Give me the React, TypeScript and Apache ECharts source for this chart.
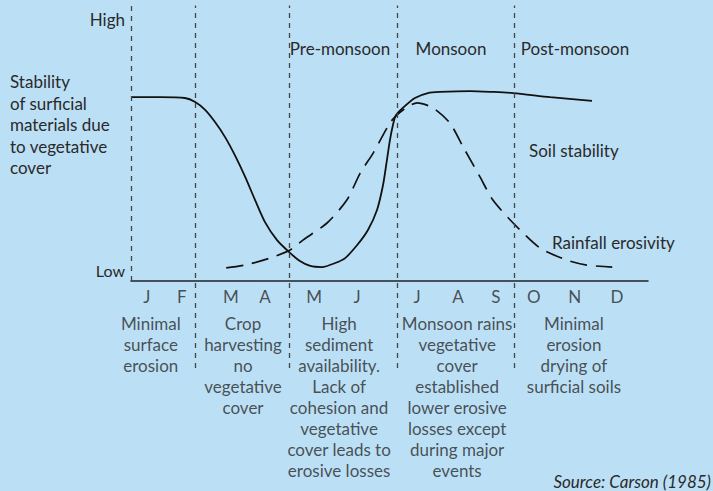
import React, { useEffect, useRef } from "react";
import * as echarts from "echarts";

const months = ["J", "F", "M", "A", "M", "J", "J", "A", "S", "O", "N", "D"];
const monthPos = [0.37, 1.18, 2.32, 3.11, 4.25, 5.25, 6.64, 7.59, 8.47, 9.35, 10.3, 11.28];

const soilX = [0, 0.67, 1.25, 1.49, 1.72, 1.95, 2.18, 2.41, 2.65, 2.88, 3.11, 3.39, 3.69, 3.92, 4.16, 4.43, 4.74, 4.97, 5.25, 5.5, 5.71, 5.85, 5.94, 6.01, 6.08, 6.15, 6.31, 6.59, 6.89, 7.17, 7.87, 8.4, 8.87, 9.73, 10.7];
const soilY = [6.34, 6.34, 6.31, 6.17, 5.9, 5.48, 4.97, 4.34, 3.59, 2.79, 2.03, 1.41, 0.97, 0.69, 0.52, 0.48, 0.62, 0.79, 1.24, 1.76, 2.45, 3.31, 4.17, 4.86, 5.38, 5.72, 5.97, 6.31, 6.48, 6.52, 6.55, 6.52, 6.48, 6.34, 6.21];

const rainX = [2.21, 2.65, 3.23, 3.69, 3.99, 4.55, 5.01, 5.32, 5.62, 6.01, 6.17, 6.41, 6.64, 7.01, 7.4, 7.71, 8.1, 8.4, 8.87, 9.49, 10.12, 10.58, 11.17];
const rainY = [0.45, 0.55, 0.79, 1.07, 1.41, 2.0, 2.79, 3.72, 4.41, 5.45, 5.72, 6.0, 6.14, 5.97, 5.45, 4.62, 3.59, 2.79, 2.0, 1.14, 0.72, 0.55, 0.48];

const dividers = [1.49, 3.67, 6.17, 8.89];

const notes = [
  "Minimal\nsurface\nerosion",
  "Crop\nharvesting\nno\nvegetative\ncover",
  "High\nsediment\navailability.\nLack of\ncohesion and\nvegetative\ncover leads to\nerosive losses",
  "Monsoon rains\nvegetative\ncover\nestablished\nlower erosive\nlosses except\nduring major\nevents",
  "Minimal\nerosion\ndrying of\nsurficial soils",
];
const notePos = [0.46, 2.6, 4.83, 7.57, 10.28];

const FONT = "Lato";
const TXT = "#2a2a2a";

export default function App() {
  const ref = useRef<HTMLDivElement>(null);
  useEffect(() => {
    if (!ref.current) return;
    const chart = echarts.init(ref.current, null, { renderer: "svg" });
    const dashStyle = { color: "#444", width: 1.3, type: [5, 5] as any };
    chart.setOption({
      animation: false,
      backgroundColor: "#bbdff5",
      textStyle: { fontFamily: FONT },
      grid: { left: 131, right: 65, top: 5.5, bottom: 491 - 368 },
      xAxis: {
        type: "value",
        min: 0,
        max: 12,
        axisLine: { show: true, onZero: true, lineStyle: { color: "#222", width: 1.5 } },
        axisTick: { show: false },
        axisLabel: { show: false },
        splitLine: { show: false },
      },
      yAxis: {
        type: "value",
        min: -3,
        max: 9.5,
        show: false,
      },
      graphic: [
        { type: "text", left: 10, top: 71, style: { text: "Stability\nof surficial\nmaterials due\nto vegetative\ncover", font: `17px ${FONT}`, fill: TXT, lineHeight: 21.5 } },
        { type: "text", x: 125, y: 19, style: { text: "High", font: `17px ${FONT}`, fill: TXT, align: "right", verticalAlign: "middle" } },
        { type: "text", x: 125, y: 270, style: { text: "Low", font: `16px ${FONT}`, fill: TXT, align: "right", verticalAlign: "middle" } },
        { type: "text", x: 340, y: 48, style: { text: "Pre-monsoon", font: `17px ${FONT}`, fill: TXT, align: "center", verticalAlign: "middle" } },
        { type: "text", x: 451, y: 48, style: { text: "Monsoon", font: `17px ${FONT}`, fill: TXT, align: "center", verticalAlign: "middle" } },
        { type: "text", x: 575, y: 48, style: { text: "Post-monsoon", font: `17px ${FONT}`, fill: TXT, align: "center", verticalAlign: "middle" } },
        { type: "text", x: 529, y: 150, style: { text: "Soil stability", font: `17px ${FONT}`, fill: TXT, align: "left", verticalAlign: "middle" } },
        { type: "text", x: 552, y: 242, style: { text: "Rainfall erosivity", font: `17px ${FONT}`, fill: TXT, align: "left", verticalAlign: "middle" } },
        { type: "text", x: 711, y: 481, style: { text: "Source: Carson (1985)", font: `italic 17px ${FONT}`, fill: TXT, align: "right", verticalAlign: "middle" } },
      ],
      series: [
        {
          type: "line",
          data: soilX.map((x, i) => [x, soilY[i]]),
          smooth: 0.25,
          showSymbol: false,
          lineStyle: { color: "#111", width: 1.8 },
          markLine: {
            silent: true,
            symbol: "none",
            label: { show: false },
            lineStyle: dashStyle,
            data: [
              [{ coord: [0, 0] }, { coord: [0, 9.5] }],
              ...dividers.map((d) => [{ coord: [d, -3] }, { coord: [d, 9.5] }]),
            ],
          },
        },
        {
          type: "line",
          data: rainX.map((x, i) => [x, rainY[i]]),
          smooth: 0.25,
          showSymbol: false,
          lineStyle: { color: "#111", width: 1.7, type: [17, 9] },
        },
        {
          type: "scatter",
          symbolSize: 0,
          data: months.map((m, i) => ({ name: m, value: [monthPos[i], -0.52] })),
          label: {
            show: true,
            position: "inside",
            formatter: (p: any) => p.name,
            fontSize: 17,
            fontFamily: FONT,
            color: TXT,
          },
        },
        {
          type: "scatter",
          symbolSize: 0,
          data: notes.map((n, i) => ({ name: n, value: [notePos[i], -1.1] })),
          label: {
            show: true,
            position: "inside",
            verticalAlign: "top",
            align: "center",
            formatter: (p: any) => p.name,
            fontSize: 17,
            lineHeight: 21,
            fontFamily: FONT,
            color: TXT,
          },
        },
      ],
    });
    return () => chart.dispose();
  }, []);
  return (
    <div
      ref={ref}
      style={{ position: "absolute", left: 0, top: 0, width: 713, height: 491 }}
    />
  );
}
